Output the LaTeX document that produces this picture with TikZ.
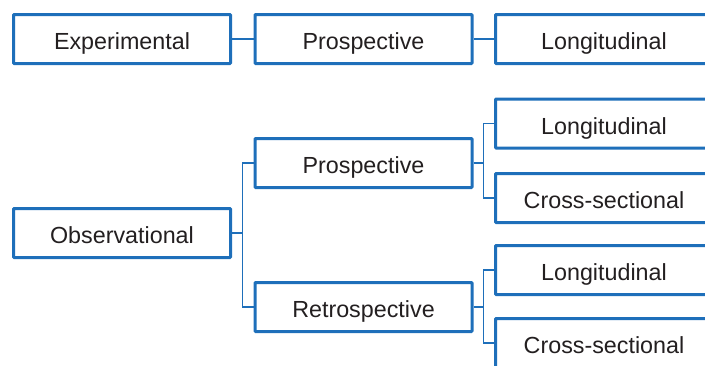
\documentclass[tikz,border=0pt]{standalone}
\usepackage{fontspec}
\setmainfont{Liberation Sans}
\usetikzlibrary{calc}
\definecolor{boxblue}{RGB}{30,111,186}
\definecolor{textgray}{RGB}{35,31,32}

\begin{document}
\begin{tikzpicture}[x=1pt, y=-1pt,
    studybox/.style={draw=boxblue, line width=3pt, fill=white, rounded corners=0.8pt,
      minimum width=217pt, minimum height=49pt, inner sep=0pt,
      text height=21pt, text depth=0pt, text=textgray,
      font=\fontsize{23.3}{28}\selectfont},
    link/.style={draw=boxblue, line width=2pt},
    branch/.style={draw=boxblue, line width=1.1pt}]
          \useasboundingbox (0, 0) rectangle (705, 365);
          \clip (0, 0) rectangle (705, 365);
          %
          \node[studybox] (exp) at (122, 39) {Experimental};
          \node[studybox] (expro) at (363.5, 39) {Prospective};
          \node[studybox] (exlong) at (604, 39) {Longitudinal};
          %
          \node[studybox] (obs) at (122, 233) {Observational};
          \node[studybox] (pro) at (363.5, 163) {Prospective};
          \node[studybox] (retro) at (363.5, 307) {Retrospective};
          \node[studybox] (prolong) at (604, 123.5) {Longitudinal};
          \node[studybox] (procross) at (604, 198) {Cross-sectional};
          \node[studybox] (retlong) at (604, 270) {Longitudinal};
          \node[studybox] (retcross) at (604, 343) {Cross-sectional};
          %
          \draw[link] (exp) -- (expro);
          \draw[link] (expro) -- (exlong);
          %
          \coordinate (ojoin) at ($(obs.east)!0.5!(obs.east -| pro.west)$);
          \coordinate (pjoin) at ($(pro.east)!0.5!(pro.east -| prolong.west)$);
          \coordinate (rjoin) at ($(retro.east)!0.5!(retro.east -| retlong.west)$);
          \draw[branch] (obs.east) -- (ojoin) |- (pro.west);
          \draw[branch] (ojoin) |- (retro.west);
          \draw[branch] (pro.east) -- (pjoin) |- (prolong.west);
          \draw[branch] (pjoin) |- (procross.west);
          \draw[branch] (retro.east) -- (rjoin) |- (retlong.west);
          \draw[branch] (rjoin) |- (retcross.west);
        \end{tikzpicture}
\end{document}
